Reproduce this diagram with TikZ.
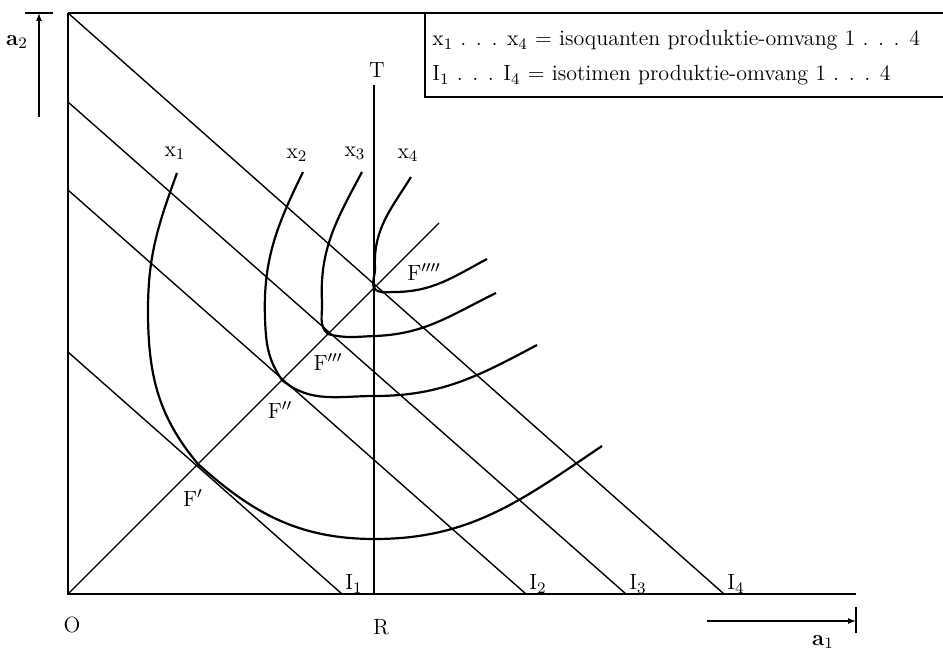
\documentclass[tikz,border=0pt]{standalone}
\usepackage{amsmath,amssymb}
\usetikzlibrary{arrows.meta,positioning}
\begin{document}
\begin{tikzpicture}[x=0.5pt,y=-0.5pt]
\tikzstyle{axisline}=[line width=0.75pt, black]
\tikzstyle{isotime}=[line width=0.7pt, black]
\tikzstyle{diag}=[line width=0.55pt, black]
\tikzstyle{isoquant}=[line width=1.1pt, black]
\tikzstyle{lbl}=[font=\fontsize{11}{13}\selectfont, inner sep=0pt]
\tikzstyle{legend}=[font=\fontsize{11}{13}\selectfont, inner sep=0pt, anchor=base west]
\tikzstyle{aarrow}=[-{Latex[length=4pt,width=3pt]}, line width=0.6pt]
\useasboundingbox (0,0) rectangle (943,651);
\coordinate (O) at (68,594);
\coordinate (A2) at (68,13);
\coordinate (A1) at (856,594);
\coordinate (R) at (374,594);
\coordinate (T) at (374,85);
\coordinate (D) at (439,223);
\coordinate (F1) at (198,464);
\coordinate (F2) at (282,380);
\coordinate (F3) at (328,334);
\coordinate (F4) at (374,288);
\draw[axisline] (A2) -- (O) -- (A1);
\draw[axisline] (A2) -- (943,13);
\coordinate (BX) at (425,13);
\draw[axisline] (943,97) -- (425,97) -- (BX);
\node[legend] (L1) at (432,46) {x$_1$ . . . x$_4$ = isoquanten produktie-omvang 1 . . . 4};
\node[legend] (L2) at (432,81) {I$_1$ . . . I$_4$ = isotimen produktie-omvang 1 . . . 4};
\foreach \n/\a/\b in {1/352/342,2/190/526,3/102/626,4/13/724}{
  \coordinate (I\n top) at (68,\a);
  \coordinate (I\n bot) at (\b,594);
  \draw[isotime] (I\n top) -- (I\n bot);
  \node[lbl, anchor=base west] (I\n) at (\b+3,590) {I$_\n$};
}
\draw[diag] (O) -- (D);
\draw[axisline] (R) -- (T);
\draw[isoquant] (177,173) to[out=250,in=90] (148,310) to[out=270,in=130] (F1)
  to[out=-42,in=180] (375,539) to[out=0,in=214] (602,446);
\draw[isoquant] (303,172) to[out=244,in=92] (265,318) to[out=272,in=125] (F2)
  to[out=-40,in=180] (375,396) to[out=0,in=208] (537,345);
\draw[isoquant] (362,172) to[out=242,in=93] (322,302) to[out=273,in=140] (F3)
  to[out=-15,in=182] (375,336) to[out=2,in=206] (496,293);
\draw[isoquant] (411,177) to[out=238,in=93] (375,268) to[out=273,in=110] (F4)
  to[out=-50,in=180] (394,292) to[out=0,in=208] (487,259);
\node[lbl] (X1) at (175,153) {x$_1$};
\node[lbl] (X2) at (297,155) {x$_2$};
\node[lbl] (X3) at (355,153) {x$_3$};
\node[lbl] (X4) at (408,155) {x$_4$};
\node[lbl] (F1l) at (193,498) {F$'$};
\node[lbl] (F2l) at (280,410) {F$''$};
\node[lbl] (F3l) at (328,362) {F$'''$};
\node[lbl] (F4l) at (424,272) {F$''''$};
\node[lbl] (Tl) at (377,70) {T};
\node[lbl] (Rl) at (381,627) {R};
\node[lbl] (Ol) at (72,625) {O};
\coordinate (a2bot) at (39,117);
\coordinate (a2top) at (39,13);
\draw[aarrow] (a2bot) -- (a2top);
\draw[axisline] (25,13) -- (53,13);
\node[lbl] (a2) at (17,42) {\textbf{a}$_2$};
\coordinate (a1left) at (707,621);
\coordinate (a1right) at (856,621);
\draw[aarrow] (a1left) -- (a1right);
\draw[axisline] (856,607) -- (856,633);
\node[lbl] (a1) at (823,642) {\textbf{a}$_1$};
\end{tikzpicture}
\end{document}
